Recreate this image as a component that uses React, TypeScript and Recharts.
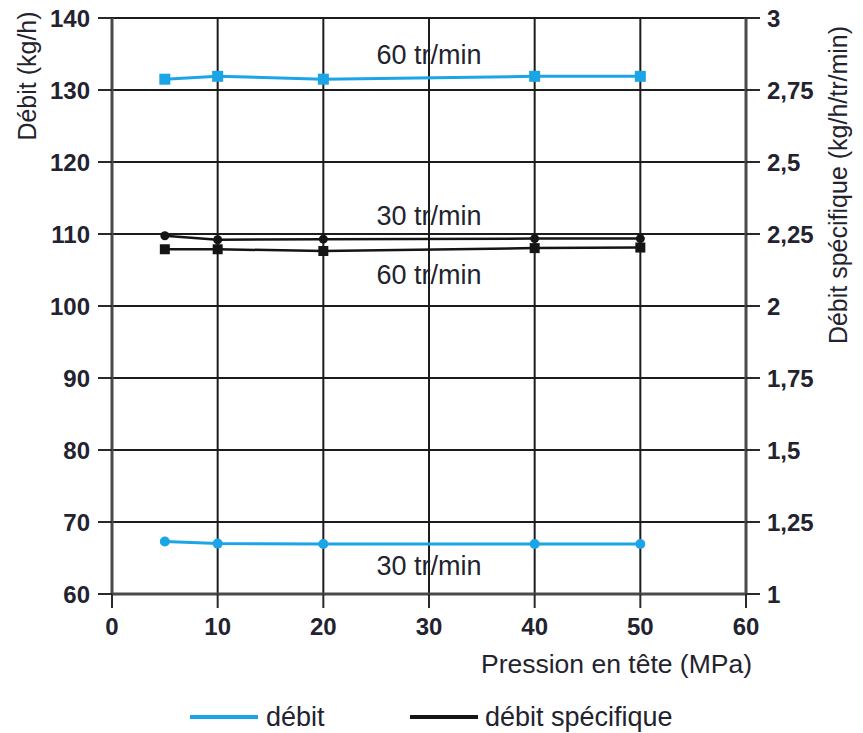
import React from 'react';
import { ComposedChart, Line, XAxis, YAxis, CartesianGrid, ReferenceDot } from 'recharts';

const pressure = [5, 10, 20, 40, 50];
const debit60 = [131.5, 131.9, 131.5, 131.9, 131.9];
const debit30 = [67.3, 67.0, 66.95, 66.95, 66.95];
const specific30 = [2.244, 2.23, 2.232, 2.234, 2.234];
const specific60 = [2.197, 2.197, 2.191, 2.201, 2.203];

const xTicks = [0, 10, 20, 30, 40, 50, 60];
const leftTicks = [60, 70, 80, 90, 100, 110, 120, 130, 140];
const rightTicks = [1, 1.25, 1.5, 1.75, 2, 2.25, 2.5, 2.75, 3];

const annotationText = ['60 tr/min', '30 tr/min', '60 tr/min', '30 tr/min'];
const annotationX = [30, 30, 30, 30];
const annotationY = [135.0, 112.6, 104.4, 64.0];

const legendNames = ['débit', 'débit spécifique'];

const BLUE = '#1ca5e6';
const BLACK = '#151515';
const TEXT = '#23232f';
const FONT = '"Liberation Sans", Arial, sans-serif';

const rows = pressure.map((p, i) => ({
  p,
  d60: debit60[i],
  d30: debit30[i],
  s30: specific30[i],
  s60: specific60[i],
}));

const fmtRight = (v: number) => String(v).replace('.', ',');

const squareDot = (color: string, size: number) => (props: any) => {
  const { cx, cy, index } = props;
  if (cx == null || cy == null) return <g key={index} />;
  return <rect key={index} x={cx - size / 2} y={cy - size / 2} width={size} height={size} fill={color} />;
};

const LeftTitle = (props: any) => {
  const vb = props.viewBox || {};
  const cx = vb.x + 27;
  const cy = vb.y + 58;
  return (
    <text x={cx} y={cy} transform={`rotate(-90, ${cx}, ${cy})`} textAnchor="middle" dominantBaseline="central"
      fontSize={25} fill={TEXT} fontFamily={FONT}>Débit (kg/h)</text>
  );
};

const RightTitle = (props: any) => {
  const vb = props.viewBox || {};
  const cx = vb.x + 92;
  const cy = vb.y + 167;
  return (
    <text x={cx} y={cy} transform={`rotate(-90, ${cx}, ${cy})`} textAnchor="middle" dominantBaseline="central"
      fontSize={25} fill={TEXT} fontFamily={FONT}>Débit spécifique (kg/h/tr/min)</text>
  );
};

const XTitle = (props: any) => {
  const vb = props.viewBox || {};
  return (
    <text x={vb.x + vb.width + 6} y={vb.y + 70} textAnchor="end" dominantBaseline="central"
      fontSize={26.5} fill={TEXT} fontFamily={FONT}>Pression en tête (MPa)</text>
  );
};

const tickStyle = { fontSize: 24, fontWeight: 700, fill: TEXT, fontFamily: FONT };

export default function App() {
  return (
    <div style={{ position: 'relative', width: 863, height: 733, fontFamily: FONT, overflow: 'hidden' }}>
      <style>{'body{margin:0;overflow:hidden;}'}</style>
      <ComposedChart width={863} height={733} data={rows} margin={{ top: 18, right: 0, left: 0, bottom: 99 }}>
        <CartesianGrid yAxisId="left" stroke="#1c1c1c" strokeWidth={2} />
        <XAxis
          dataKey="p"
          type="number"
          domain={[0, 60]}
          ticks={xTicks}
          height={40}
          tickSize={14}
          tickMargin={10}
          tick={tickStyle}
          axisLine={{ stroke: '#4a4a4a', strokeWidth: 3 }}
          tickLine={{ stroke: '#2a2a2a', strokeWidth: 2 }}
          interval={0}
          label={<XTitle />}
        />
        <YAxis
          yAxisId="left"
          orientation="left"
          domain={[60, 140]}
          ticks={leftTicks}
          width={112}
          tickSize={14}
          tickMargin={8}
          tick={tickStyle}
          axisLine={{ stroke: '#4a4a4a', strokeWidth: 3 }}
          tickLine={{ stroke: '#2a2a2a', strokeWidth: 2 }}
          interval={0}
          label={<LeftTitle />}
        />
        <YAxis
          yAxisId="right"
          orientation="right"
          domain={[1, 3]}
          ticks={rightTicks}
          width={117}
          tickSize={14}
          tickMargin={7}
          tick={tickStyle}
          tickFormatter={fmtRight}
          axisLine={{ stroke: '#4a4a4a', strokeWidth: 3 }}
          tickLine={{ stroke: '#2a2a2a', strokeWidth: 2 }}
          interval={0}
          label={<RightTitle />}
        />
        <Line yAxisId="left" dataKey="d60" stroke={BLUE} strokeWidth={3} dot={squareDot(BLUE, 11)} isAnimationActive={false} />
        <Line yAxisId="left" dataKey="d30" stroke={BLUE} strokeWidth={3} dot={{ r: 5, fill: BLUE, stroke: BLUE, strokeWidth: 0 }} isAnimationActive={false} />
        <Line yAxisId="right" dataKey="s30" stroke={BLACK} strokeWidth={2.5} dot={{ r: 4.5, fill: BLACK, stroke: BLACK, strokeWidth: 0 }} isAnimationActive={false} />
        <Line yAxisId="right" dataKey="s60" stroke={BLACK} strokeWidth={2.5} dot={squareDot(BLACK, 10)} isAnimationActive={false} />
        {annotationText.map((t, i) => (
          <ReferenceDot
            key={i}
            yAxisId="left"
            x={annotationX[i]}
            y={annotationY[i]}
            r={0}
            fill="none"
            stroke="none"
            label={{ value: t, position: 'center', fontSize: 27, fill: TEXT, fontFamily: FONT }}
          />
        ))}
      </ComposedChart>
      <div style={{ position: 'absolute', left: 190, top: 715, width: 68, height: 4, background: BLUE }} />
      <div style={{ position: 'absolute', left: 266, top: 701, fontSize: 27, lineHeight: '32px', color: TEXT, whiteSpace: 'nowrap' }}>{legendNames[0]}</div>
      <div style={{ position: 'absolute', left: 410, top: 715, width: 68, height: 4, background: BLACK }} />
      <div style={{ position: 'absolute', left: 485, top: 701, fontSize: 27, lineHeight: '32px', color: TEXT, whiteSpace: 'nowrap' }}>{legendNames[1]}</div>
    </div>
  );
}
